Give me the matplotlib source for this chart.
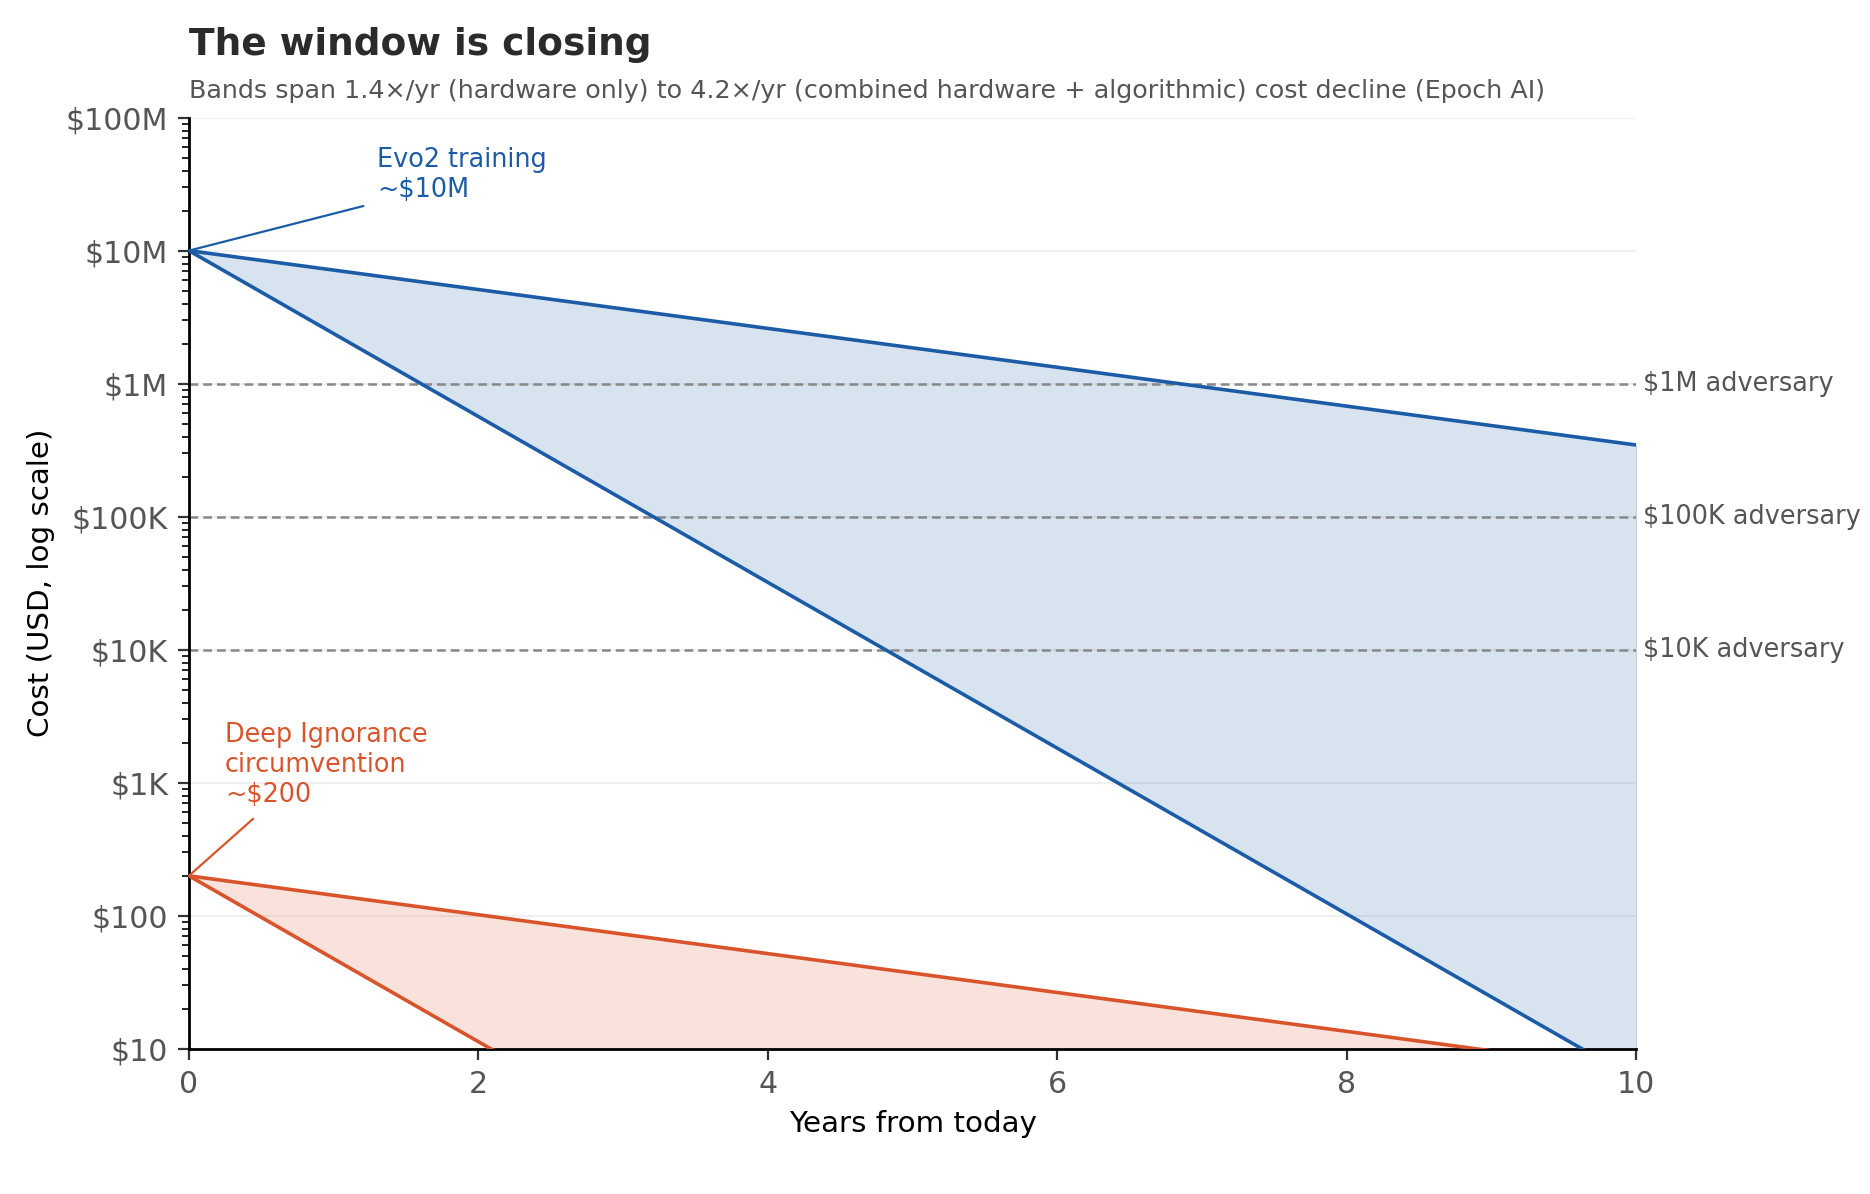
import matplotlib
matplotlib.use("Agg")
import matplotlib.pyplot as plt
from matplotlib.ticker import FixedLocator, LogLocator, NullFormatter

# ---- data ----
years = [0, 10]
evo2_hw_only = [1.0e7, 3.46e5]      # 1.4x/yr decline
evo2_combined = [1.0e7, 5.85]       # 4.2x/yr decline
deep_hw_only = [200, 6.91]
deep_combined = [200, 1.17e-4]
adversary_levels = [1e6, 1e5, 1e4]
adversary_labels = ["$1M adversary", "$100K adversary", "$10K adversary"]
ytick_values = [10, 100, 1e3, 1e4, 1e5, 1e6, 1e7, 1e8]
ytick_labels = ["$10", "$100", "$1K", "$10K", "$100K", "$1M", "$10M", "$100M"]
xtick_values = [0, 2, 4, 6, 8, 10]

BLUE = "#1c5ca7"
RED = "#d9542b"
GREY = "#555555"

plt.rcParams['font.family'] = ['DejaVu Sans']
fig = plt.figure(figsize=(9.35, 5.97), dpi=200)
ax = fig.add_axes([0.101, 0.1215, 0.774, 0.78])

ax.set_yscale('log')
ax.set_xlim(0, 10)
ax.set_ylim(10, 1e8)

for yv in ytick_values:
    ax.axhline(yv, color="#eeeeee", lw=0.6, zorder=0)

ax.fill_between(years, evo2_combined, evo2_hw_only, color=BLUE, alpha=0.17, lw=0.5, zorder=1)
ax.plot(years, evo2_hw_only, color=BLUE, lw=1.3, zorder=3)
ax.plot(years, evo2_combined, color=BLUE, lw=1.3, zorder=3)

ax.fill_between(years, deep_combined, deep_hw_only, color=RED, alpha=0.17, lw=0.5, zorder=1)
ax.plot(years, deep_hw_only, color=RED, lw=1.3, zorder=3)
ax.plot(years, deep_combined, color=RED, lw=1.3, zorder=3)

for lvl, lab in zip(adversary_levels, adversary_labels):
    ax.axhline(lvl, color="#888888", lw=0.9, ls=(0, (3.5, 2)), zorder=2)
    ax.text(10.05, lvl, lab, color=GREY, fontsize=9.2, va='center', ha='left', clip_on=False)

ax.annotate("Evo2 training\n~$10M", xy=(years[0], evo2_hw_only[0]), xytext=(1.3, 2.3e7),
            color=BLUE, fontsize=9.2, ha='left', va='bottom',
            arrowprops=dict(arrowstyle='-', color=BLUE, lw=0.8, relpos=(0, 0), shrinkA=3, shrinkB=0))
ax.annotate("Deep Ignorance\ncircumvention\n~$200", xy=(years[0], deep_hw_only[0]), xytext=(0.25, 650),
            color=RED, fontsize=9.2, ha='left', va='bottom',
            arrowprops=dict(arrowstyle='-', color=RED, lw=0.8, relpos=(0.2, 0), shrinkA=3, shrinkB=0))

ax.yaxis.set_major_locator(FixedLocator(ytick_values))
ax.set_yticklabels(ytick_labels)
ax.yaxis.set_minor_locator(LogLocator(base=10, subs=range(2, 10)))
ax.yaxis.set_minor_formatter(NullFormatter())
ax.set_xticks(xtick_values)
ax.tick_params(axis='both', labelsize=10.8, labelcolor=GREY, color='#333333')
ax.tick_params(axis='both', which='major', length=4, width=0.8)
ax.tick_params(axis='y', which='minor', length=2.5, width=0.6)

for s in ['top', 'right']:
    ax.spines[s].set_visible(False)
for s in ['left', 'bottom']:
    ax.spines[s].set_color('black')
    ax.spines[s].set_linewidth(1.0)

ax.set_xlabel("Years from today", fontsize=10.6, color='black')
ax.set_ylabel("Cost (USD, log scale)", fontsize=10.6, color='black')

fig.text(0.101, 0.962, "The window is closing", fontsize=13.5, fontweight='bold', color="#2b2b2b",
         ha='left', va='center')
fig.text(0.101, 0.924, "Bands span 1.4\u00d7/yr (hardware only) to 4.2\u00d7/yr (combined hardware + algorithmic) cost decline (Epoch AI)",
         fontsize=9.15, color=GREY, ha='left', va='center')

fig.savefig("out.png", dpi=200)
